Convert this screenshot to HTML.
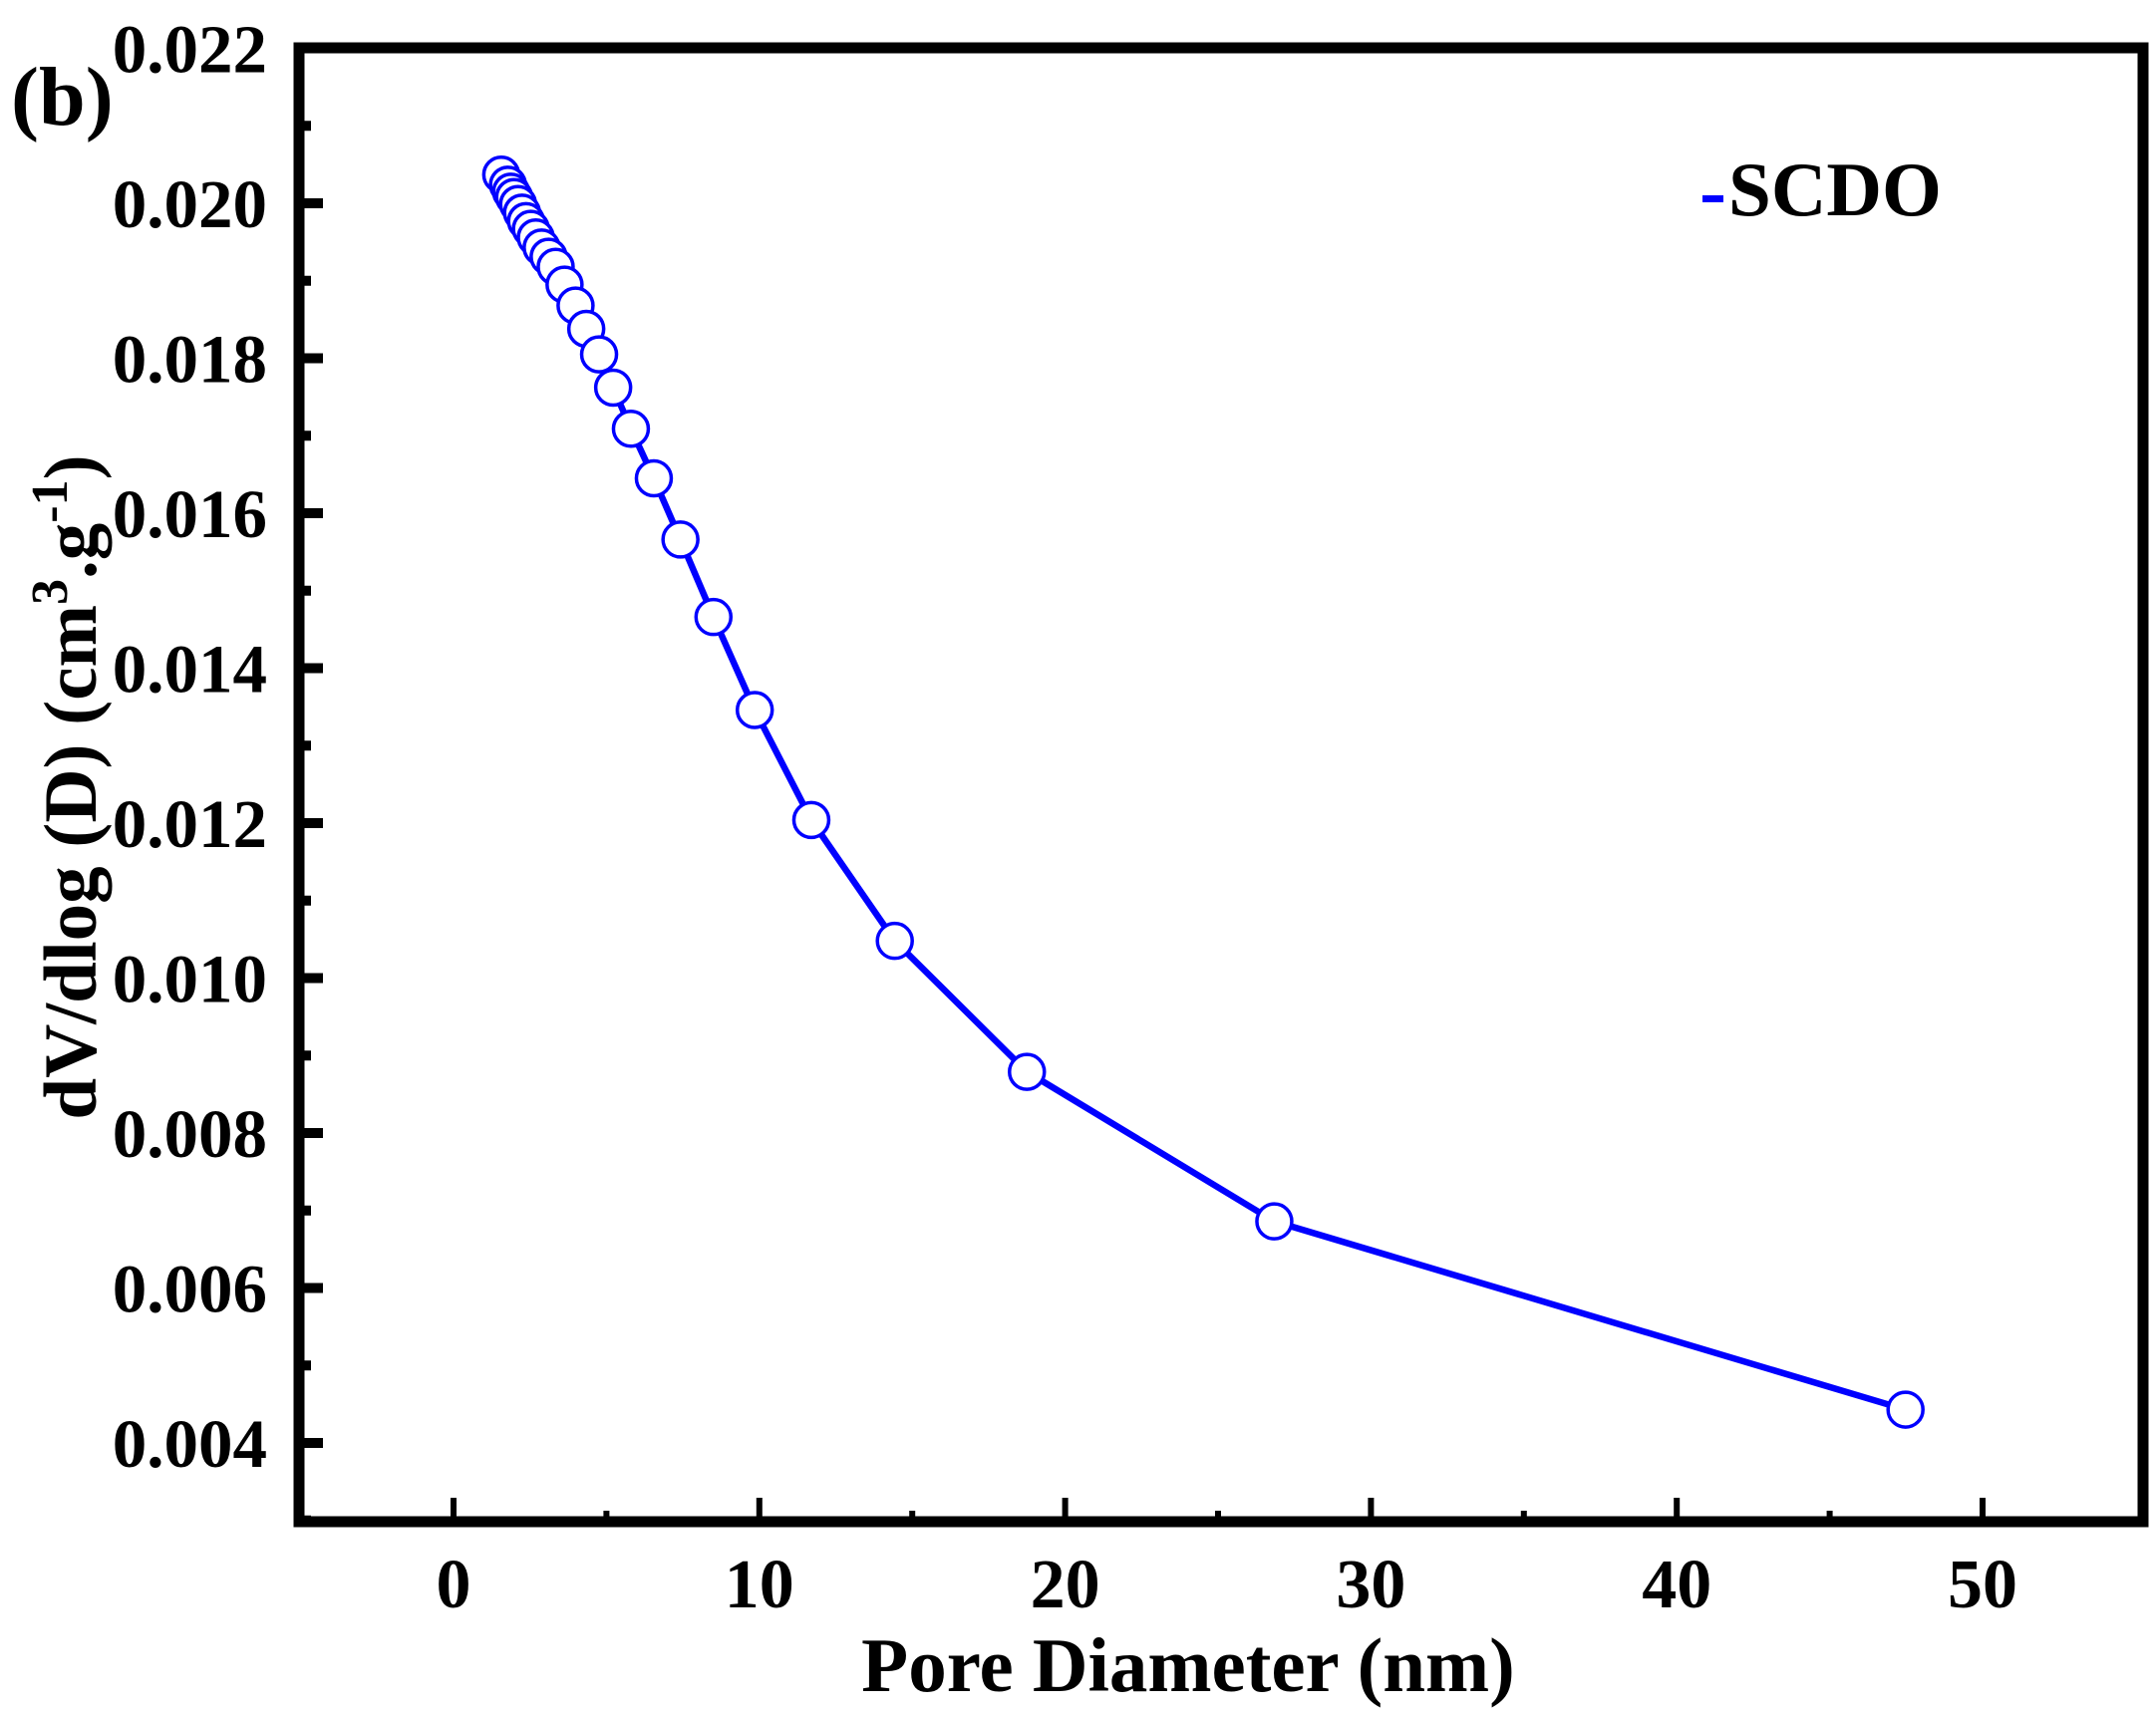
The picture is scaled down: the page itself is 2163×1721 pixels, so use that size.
<!DOCTYPE html>
<html><head><meta charset="utf-8"><style>
html,body{margin:0;padding:0;background:#fff;}
svg{display:block;font-family:"Liberation Serif",serif;font-weight:bold;}
</style></head><body>
<svg id="chart" width="2163" height="1721" viewBox="0 0 2163 1721" xmlns="http://www.w3.org/2000/svg">
<g id="axes"></g>
<g id="series"></g>
<text x="11" y="125" font-size="84">(b)</text>
<text x="1192" y="1697" font-size="77" text-anchor="middle">Pore Diameter (nm)</text>
<text transform="translate(96,790) rotate(-90)" font-size="75" text-anchor="middle">dV/dlog (D) (cm<tspan dy="-29" font-size="52">3</tspan><tspan dy="29">.g</tspan><tspan dy="-29" font-size="52">-1</tspan><tspan dy="29">)</tspan></text>
<rect x="1708" y="196" width="21" height="7" fill="#0000ff"/>
<text x="1734" y="216" font-size="77">SCDO</text>
</svg>
<script>
const diameters=[1.56,1.78,1.88,1.98,2.11,2.24,2.37,2.53,2.69,2.88,3.11,3.34,3.63,3.99,4.34,4.76,5.22,5.80,6.55,7.42,8.5,9.85,11.7,14.43,18.75,26.84,47.48];
const volumes=[0.02037,0.02024,0.02015,0.02008,0.01999,0.01988,0.01977,0.01967,0.01956,0.01943,0.01931,0.01918,0.01895,0.01868,0.01838,0.01805,0.01762,0.01709,0.01645,0.01566,0.01466,0.01346,0.01204,0.01048,0.00879,0.00686,0.00443];
const xTicks=[0,10,20,30,40,50];
const xTickLabels=["0","10","20","30","40","50"];
const yTicks=[0.004,0.006,0.008,0.010,0.012,0.014,0.016,0.018,0.020,0.022];
const yTickLabels=["0.004","0.006","0.008","0.010","0.012","0.014","0.016","0.018","0.020","0.022"];
const NS="http://www.w3.org/2000/svg";
const L=300,R=2150,T=48,B=1527;
const sx=v=>455+v*30.68;
const sy=v=>204+(0.020-v)/0.002*155.5;
function mk(tag,attrs,parent){const e=document.createElementNS(NS,tag);for(const k in attrs)e.setAttribute(k,attrs[k]);parent.appendChild(e);return e;}
const axes=document.getElementById('axes');
const ser=document.getElementById('series');
const fr=mk('rect',{x:L,y:T,width:R-L,height:B-T,fill:'none',stroke:'#000','stroke-width':11},axes);


xTicks.forEach((v,i)=>{
  const t=mk('line',{x1:sx(v),x2:sx(v),y1:B,y2:B-24,stroke:'#000','stroke-width':6},axes);
  
  
  if(i<xTicks.length-1){
    const m=mk('line',{x1:sx(v+5),x2:sx(v+5),y1:B,y2:B-11,stroke:'#000','stroke-width':6},axes);
    
    
  }
  const tx=mk('text',{x:sx(v),y:1613,'font-size':70,'text-anchor':'middle'},axes);
  tx.textContent=xTickLabels[i];
  
  
});
yTicks.forEach((v,i)=>{
  if(i<yTicks.length-1){
    const t=mk('line',{x1:L,x2:L+24,y1:sy(v),y2:sy(v),stroke:'#000','stroke-width':10},axes);
    
    
  }
  const m=mk('line',{x1:L,x2:L+12,y1:sy(v-0.001),y2:sy(v-0.001),stroke:'#000','stroke-width':10},axes);
  
  
  const tx=mk('text',{x:268,y:sy(v)+24,'font-size':69,'text-anchor':'end'},axes);
  tx.textContent=yTickLabels[i];
  
  
});
const pts=diameters.map((d,i)=>sx(d)+','+sy(volumes[i])).join(' ');
const pl=mk('polyline',{points:pts,fill:'none',stroke:'#0000ff','stroke-width':6.5,'stroke-linejoin':'round'},ser);


diameters.forEach((d,i)=>{
  const c=mk('circle',{cx:sx(d),cy:sy(volumes[i]),r:17.5,fill:'#fff',stroke:'#0000ff','stroke-width':3.5},ser);
  
  
});
</script>
</body></html>
